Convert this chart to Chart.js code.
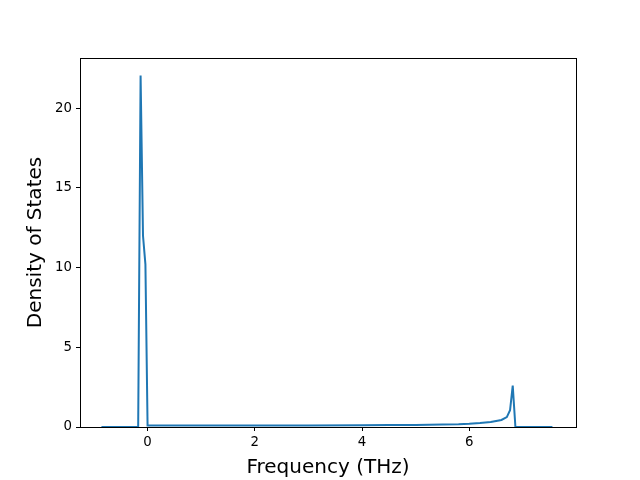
<!DOCTYPE html>
<html>
<head>
<meta charset="utf-8">
<script src="https://cdn.jsdelivr.net/npm/chart.js@4"></script>
<style>
  html, body { margin: 0; padding: 0; background: #fff; }
  #wrap { width: 640px; height: 480px; }
</style>
</head>
<body>
<div id="wrap"><canvas id="dosChart" width="640" height="480"></canvas></div>
<script>
// frequency (THz) and density of states
const freqs = [-0.86, -0.175, -0.13, -0.085, -0.04, 0.0, 0.05, 1.0, 2.0, 3.0, 4.0, 4.5, 5.0, 5.5, 5.8, 6.0, 6.2, 6.4, 6.6, 6.7, 6.76, 6.81, 6.86, 7.55];
const dos   = [0, 0, 22.05, 12.0, 10.2, 0.1, 0.1, 0.1, 0.1, 0.1, 0.11, 0.12, 0.13, 0.15, 0.17, 0.2, 0.25, 0.32, 0.44, 0.62, 1.05, 2.6, 0, 0];
const xTicks = [0, 2, 4, 6];
const yTicks = [0, 5, 10, 15, 20];
const xRange = [-1.26, 7.99];
const yRange = [0, 23.15];

Chart.defaults.color = '#000';
Chart.defaults.font.family = '"DejaVu Sans", sans-serif';

// matplotlib-like box round the plot area
const frame = {
    id: 'frame',
    afterDraw(chart) {
        const { ctx, chartArea: a } = chart;
        ctx.save();
        ctx.strokeStyle = '#000';
        ctx.lineWidth = 1;
        ctx.strokeRect(Math.round(a.left) + 0.5, Math.round(a.top) + 0.5, Math.round(a.right - a.left), Math.round(a.bottom - a.top));
        ctx.restore();
    }
};

const points = freqs.map((f, i) => ({ x: f, y: dos[i] }));

new Chart(document.getElementById('dosChart').getContext('2d'), {
    type: 'line',
    data: { datasets: [{ data: points, borderColor: '#1f77b4', borderWidth: 2, pointRadius: 0, tension: 0, fill: false }] },
    options: {
        responsive: false,
        animation: false,
        plugins: { legend: { display: false }, tooltip: { enabled: false } },
        layout: { padding: { top: 58, right: 64, left: 0, bottom: 0 } },
        scales: {
            x: {
                type: 'linear', min: xRange[0], max: xRange[1],
                afterBuildTicks: s => { s.ticks = xTicks.map(v => ({ value: v })); },
                afterFit: s => { s.height = 53; },
                grid: { drawOnChartArea: false, tickLength: 4, tickColor: '#000', tickWidth: 1 },
                border: { display: false },
                ticks: { font: { size: 13.33 }, padding: 4, maxRotation: 0 },
                title: { display: true, text: 'Frequency (THz)', font: { size: 20 }, padding: { top: 3, bottom: 0 } }
            },
            y: {
                type: 'linear', min: yRange[0], max: yRange[1],
                afterBuildTicks: s => { s.ticks = yTicks.map(v => ({ value: v })); },
                afterFit: s => { s.width = 80; },
                grid: { drawOnChartArea: false, tickLength: 4, tickColor: '#000', tickWidth: 1 },
                border: { display: false },
                ticks: { font: { size: 13.33 }, padding: 4 },
                title: { display: true, text: 'Density of States', font: { size: 20 }, padding: { top: 24, bottom: 0 } }
            }
        }
    },
    plugins: [frame]
});
</script>
</body>
</html>
